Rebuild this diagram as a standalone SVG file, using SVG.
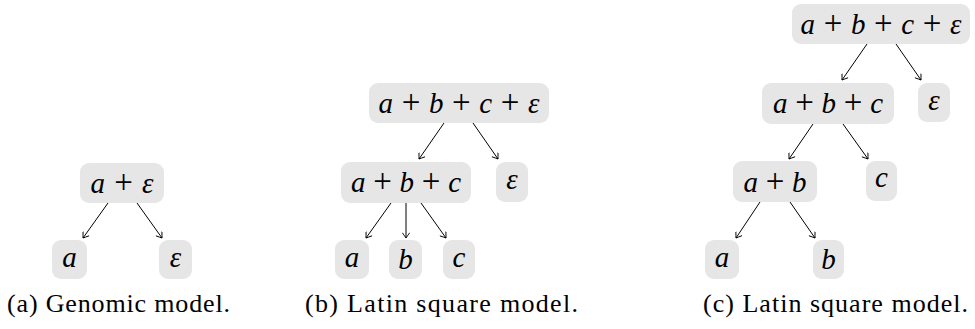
<svg xmlns="http://www.w3.org/2000/svg" width="975" height="329" viewBox="0 0 975 329">
<style>
.box{fill:#e6e6e6;stroke:none}
.m{font-size:29px;font-style:italic;fill:#000;text-anchor:middle}
.p{font-style:normal;font-size:33px}
.cap{font-size:26px;fill:#000;text-anchor:middle}
.edge{stroke:#000;stroke-width:1;fill:none;marker-end:url(#tip)}
</style>
<defs>
<marker id="tip" viewBox="-6 -4 7 8" refX="0" refY="0" markerWidth="7" markerHeight="8" markerUnits="userSpaceOnUse" orient="auto">
<path d="M-5,-3.5 Q-1.5,-1 0,0 Q-1.5,1 -5,3.5" fill="none" stroke="#000" stroke-width="0.9" stroke-linecap="round"/>
</marker>
</defs>
<g font-family="'Liberation Serif', 'Times New Roman', 'DejaVu Serif', serif">
<!-- panel a -->
<g id="a_root"><rect class="box" x="80" y="163" width="84" height="40" rx="9"/><text class="m" x="122" y="193" textLength="63" lengthAdjust="spacing">a <tspan class="p">+</tspan> ε</text></g>
<g id="a_a"><rect class="box" x="52" y="240" width="35" height="39" rx="9"/><text class="m" x="69.5" y="267">a</text></g>
<g id="a_e"><rect class="box" x="159" y="240" width="33" height="39" rx="9"/><text class="m" x="175.5" y="267">ε</text></g>
<!-- panel b -->
<g id="b_root"><rect class="box" x="369" y="83" width="180" height="40" rx="9"/><text class="m" x="459" y="113" textLength="161" lengthAdjust="spacing">a <tspan class="p">+</tspan> b <tspan class="p">+</tspan> c <tspan class="p">+</tspan> ε</text></g>
<g id="b_abc"><rect class="box" x="341" y="162" width="130" height="41" rx="9"/><text class="m" x="406" y="192" textLength="110" lengthAdjust="spacing">a <tspan class="p">+</tspan> b <tspan class="p">+</tspan> c</text></g>
<g id="b_e"><rect class="box" x="496" y="162" width="32" height="40" rx="9"/><text class="m" x="512" y="189">ε</text></g>
<g id="b_a"><rect class="box" x="335" y="240" width="34" height="39" rx="9"/><text class="m" x="352" y="267">a</text></g>
<g id="b_b"><rect class="box" x="389" y="240" width="33" height="39" rx="9"/><text class="m" x="405.5" y="269">b</text></g>
<g id="b_c"><rect class="box" x="443" y="240" width="32" height="39" rx="9"/><text class="m" x="459" y="267">c</text></g>
<!-- panel c -->
<g id="c_root"><rect class="box" x="792" y="4" width="178" height="40" rx="9"/><text class="m" x="881" y="34" textLength="161" lengthAdjust="spacing">a <tspan class="p">+</tspan> b <tspan class="p">+</tspan> c <tspan class="p">+</tspan> ε</text></g>
<g id="c_abc"><rect class="box" x="762" y="83" width="132" height="41" rx="9"/><text class="m" x="828" y="113" textLength="110" lengthAdjust="spacing">a <tspan class="p">+</tspan> b <tspan class="p">+</tspan> c</text></g>
<g id="c_e"><rect class="box" x="918" y="83" width="32" height="39" rx="9"/><text class="m" x="934" y="110">ε</text></g>
<g id="c_ab"><rect class="box" x="733" y="161" width="84" height="41" rx="9"/><text class="m" x="775" y="192" textLength="63" lengthAdjust="spacing">a <tspan class="p">+</tspan> b</text></g>
<g id="c_c"><rect class="box" x="866" y="161" width="31" height="40" rx="9"/><text class="m" x="881.5" y="187">c</text></g>
<g id="c_a"><rect class="box" x="705" y="240" width="34" height="39" rx="9"/><text class="m" x="722" y="267">a</text></g>
<g id="c_b"><rect class="box" x="813" y="240" width="31" height="39" rx="9"/><text class="m" x="828.5" y="269">b</text></g>
<!-- captions -->
<text class="cap" x="118.5" y="312" textLength="223" lengthAdjust="spacing">(a) Genomic model.</text>
<text class="cap" x="441.5" y="312" textLength="273" lengthAdjust="spacing">(b) Latin square model.</text>
<text class="cap" x="835.5" y="312" textLength="265" lengthAdjust="spacing">(c) Latin square model.</text>
</g>
<!-- connectors -->
<g id="connectors">
<line class="edge" x1="108" y1="203" x2="83" y2="238"/>
<line class="edge" x1="137" y1="203" x2="162" y2="238"/>
<line class="edge" x1="444" y1="123" x2="419" y2="159"/>
<line class="edge" x1="473" y1="123" x2="498" y2="159"/>
<line class="edge" x1="391" y1="203" x2="366" y2="238"/>
<line class="edge" x1="406" y1="203" x2="406" y2="238"/>
<line class="edge" x1="421" y1="203" x2="446" y2="238"/>
<line class="edge" x1="867" y1="44" x2="842" y2="80"/>
<line class="edge" x1="896" y1="44" x2="921" y2="80"/>
<line class="edge" x1="813" y1="124" x2="789" y2="159"/>
<line class="edge" x1="843" y1="124" x2="868" y2="159"/>
<line class="edge" x1="760" y1="202" x2="736" y2="238"/>
<line class="edge" x1="790" y1="202" x2="815" y2="238"/>
</g>
</svg>
